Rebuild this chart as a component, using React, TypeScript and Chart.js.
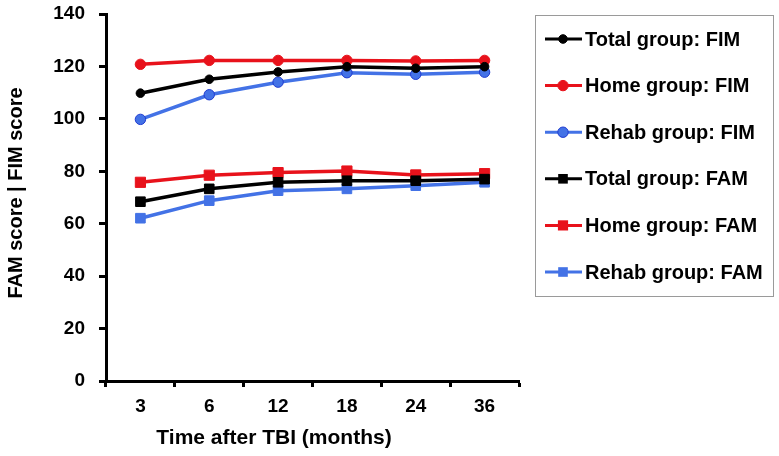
import { useEffect, useRef } from "react";
import { Chart, registerables } from "chart.js";

Chart.register(...registerables);

const timeLabels = ["3", "6", "12", "18", "24", "36"];
const totalFIM = [109.8, 115.1, 117.9, 119.9, 119.3, 119.9];
const homeFIM = [120.8, 122.3, 122.3, 122.3, 122.1, 122.3];
const rehabFIM = [99.8, 109.2, 114.0, 117.6, 117.0, 117.8];
const totalFAM = [68.4, 73.3, 75.8, 76.4, 76.4, 77.0];
const homeFAM = [75.8, 78.5, 79.5, 80.1, 78.6, 79.1];
const rehabFAM = [62.1, 68.8, 72.6, 73.3, 74.5, 75.8];
const yTicks = [0, 20, 40, 60, 80, 100, 120, 140];
const xTitle = "Time after TBI (months)";
const yTitle = "FAM score | FIM score";

const BLACK = "#000000";
const RED = "#e8121b";
const BLUE = "#4372e6";
const BLUE_EDGE = "#1f3bd0";
const FONT = "Liberation Sans, Arial, sans-serif";

const boxLegend = {
  id: "boxLegend",
  afterDraw(chart: any) {
    const ctx = chart.ctx;
    const bx = 535, by = 15, bw = 238, bh = 281;
    ctx.save();
    ctx.strokeStyle = "#9a9a9a";
    ctx.lineWidth = 1;
    ctx.strokeRect(bx + 0.5, by + 0.5, bw, bh);
    const items = chart.data.datasets;
    items.forEach((ds: any, i: number) => {
      const cy = 39 + i * 46.6;
      ctx.beginPath();
      ctx.strokeStyle = ds.borderColor;
      ctx.lineWidth = 3;
      ctx.moveTo(545, cy);
      ctx.lineTo(582, cy);
      ctx.stroke();
      ctx.fillStyle = ds.pointBackgroundColor;
      ctx.strokeStyle = ds.pointBorderColor;
      ctx.lineWidth = 1;
      if (ds.pointStyle === "rect") {
        const s = ds.pointRadius * Math.SQRT1_2;
        ctx.fillRect(563 - s, cy - s, 2 * s, 2 * s);
      } else {
        ctx.beginPath();
        ctx.arc(563, cy, ds.pointRadius, 0, Math.PI * 2);
        ctx.fill();
        ctx.stroke();
      }
      ctx.fillStyle = "#000";
      ctx.font = `bold 20px ${FONT}`;
      ctx.textAlign = "left";
      ctx.textBaseline = "middle";
      ctx.fillText(ds.label, 585, cy + 1);
    });

    // axis titles
    ctx.fillStyle = "#000";
    ctx.textAlign = "center";
    ctx.textBaseline = "middle";
    ctx.font = `bold 21px ${FONT}`;
    ctx.fillText(xTitle, 274, 438);
    ctx.save();
    ctx.translate(16, 193);
    ctx.rotate(-Math.PI / 2);
    ctx.font = `bold 20px ${FONT}`;
    ctx.fillText(yTitle, 0, 0);
    ctx.restore();
    ctx.restore();
  },
};

function series(label: string, data: number[], color: string, style: string, radius: number, edge: string) {
  return {
    label,
    data,
    borderColor: color,
    backgroundColor: color,
    borderWidth: 3.5,
    pointStyle: style,
    pointRadius: radius,
    pointHoverRadius: radius,
    pointBackgroundColor: color,
    pointBorderColor: edge,
    pointBorderWidth: 1,
    tension: 0,
  };
}

export default function App() {
  const ref = useRef<HTMLCanvasElement | null>(null);
  useEffect(() => {
    if (!ref.current) return;
    const chart = new Chart(ref.current, {
      type: "line",
      data: {
        labels: timeLabels,
        datasets: [
          series("Total group: FIM", totalFIM, BLACK, "circle", 4.3, BLACK),
          series("Home group: FIM", homeFIM, RED, "circle", 5.2, RED),
          series("Rehab group: FIM", rehabFIM, BLUE, "circle", 5.2, BLUE_EDGE),
          series("Total group: FAM", totalFAM, BLACK, "rect", 6.8, BLACK),
          series("Home group: FAM", homeFAM, RED, "rect", 7.2, RED),
          series("Rehab group: FAM", rehabFAM, BLUE, "rect", 6.8, BLUE),
        ] as any,
      },
      options: {
        animation: false,
        responsive: false,
        devicePixelRatio: 1,
        layout: { padding: { left: 0, top: 14, right: 260, bottom: 0 } },
        plugins: { legend: { display: false }, tooltip: { enabled: false } },
        scales: {
          x: {
            type: "category",
            offset: true,
            grid: {
              offset: true,
              drawOnChartArea: false,
              drawTicks: true,
              tickLength: 6,
              tickWidth: 3,
              tickColor: "#000",
            },
            border: { color: "#000", width: 3 },
            ticks: { color: "#000", font: { family: FONT, size: 19, weight: "bold" }, padding: 8 },
            title: { display: false },
            afterFit(scale: any) {
              scale.height = 456 - 381;
              scale.paddingLeft = 0;
              scale.paddingRight = 0;
            },
          },
          y: {
            min: 0,
            max: 140,
            afterBuildTicks(scale: any) {
              scale.ticks = yTicks.map((v) => ({ value: v }));
            },
            grid: {
              drawOnChartArea: false,
              drawTicks: true,
              tickLength: 7,
              tickWidth: 3,
              tickColor: "#000",
            },
            border: { color: "#000", width: 3 },
            ticks: { color: "#000", font: { family: FONT, size: 19, weight: "bold" }, padding: 14 },
            title: { display: false },
            afterFit(scale: any) {
              scale.width = 106;
              scale.paddingTop = 0;
              scale.paddingBottom = 0;
            },
          },
        },
      } as any,
      plugins: [boxLegend],
    });
    return () => chart.destroy();
  }, []);
  return (
    <div style={{ position: "absolute", left: 0, top: 0, width: 779, height: 456, background: "#fff" }}>
      <canvas ref={ref} width={779} height={456} style={{ width: 779, height: 456, display: "block" }} />
    </div>
  );
}
